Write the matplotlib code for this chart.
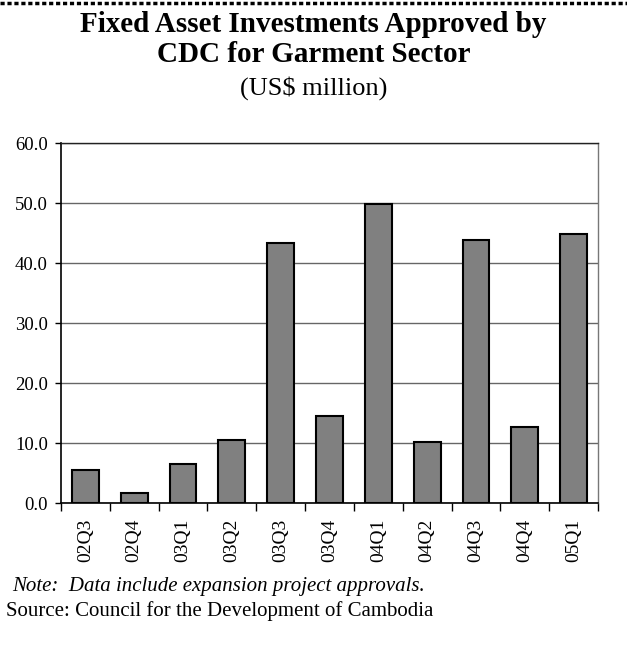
import matplotlib
matplotlib.use("Agg")
import matplotlib.pyplot as plt
from matplotlib.lines import Line2D

categories = ["02Q3", "02Q4", "03Q1", "03Q2", "03Q3", "03Q4", "04Q1", "04Q2", "04Q3", "04Q4", "05Q1"]
values = [5.5, 1.6, 6.5, 10.5, 43.3, 14.5, 49.8, 10.1, 43.9, 12.7, 44.9]
yticks = [0, 10, 20, 30, 40, 50, 60]

plt.rcParams['font.family'] = ['Liberation Serif', 'DejaVu Serif']

W, H = 627, 666
fig = plt.figure(figsize=(W / 100, H / 100), dpi=100)

# axes placement in pixels
left, right, top, bottom = 61, 598, 143, 503
ax = fig.add_axes([left / W, 1 - bottom / H, (right - left) / W, (bottom - top) / H])

x = list(range(len(categories)))
ax.bar(x, values, width=0.55, color='#808080', edgecolor='black', linewidth=1.5, zorder=3)
ax.set_xlim(-0.5, len(categories) - 0.5)
ax.set_ylim(0, 60)
ax.set_yticks(yticks)
ax.set_yticklabels([f"{v:.1f}" for v in yticks], fontsize=13.5)
ax.yaxis.grid(True, color='#666666', linewidth=1.0, zorder=0)
ax.set_axisbelow(True)

ax.set_xticks([i + 0.5 for i in range(-1, len(categories))], minor=False)
ax.set_xticklabels([])
ax.tick_params(axis='x', length=6, width=1, direction='out', color='black')
ax.tick_params(axis='y', length=4.5, width=1, direction='out', color='black', pad=5)
ax.set_xticks(x, minor=True)
ax.set_xticklabels(categories, minor=True, rotation=90, fontsize=14)
ax.tick_params(axis='x', which='minor', length=0, pad=11)

for s in ['left', 'bottom']:
    ax.spines[s].set_color('black')
    ax.spines[s].set_linewidth(1.2)
ax.spines['right'].set_color('#777777')
ax.spines['right'].set_linewidth(1.0)
ax.spines['top'].set_color('#222222')
ax.spines['top'].set_linewidth(1.0)

# top dotted border
fig.add_artist(Line2D([0, 1], [1 - 3 / H, 1 - 3 / H], transform=fig.transFigure,
                      color='black', linewidth=2.5, linestyle=(0, (1.2, 0.8))))

fig.text(0.5, 1 - 32 / H, "Fixed Asset Investments Approved by", ha='center', va='baseline',
         fontsize=21, fontweight='bold')
fig.text(0.5, 1 - 62 / H, "CDC for Garment Sector", ha='center', va='baseline',
         fontsize=21, fontweight='bold')
fig.text(0.5, 1 - 95 / H, "(US$ million)", ha='center', va='baseline', fontsize=19)

fig.text(12 / W, 1 - 591 / H, "Note:  Data include expansion project approvals.", ha='left', va='baseline',
         fontsize=15, style='italic')
fig.text(6 / W, 1 - 616 / H, "Source: Council for the Development of Cambodia", ha='left', va='baseline',
         fontsize=15)

fig.savefig("out.png", dpi=100)
